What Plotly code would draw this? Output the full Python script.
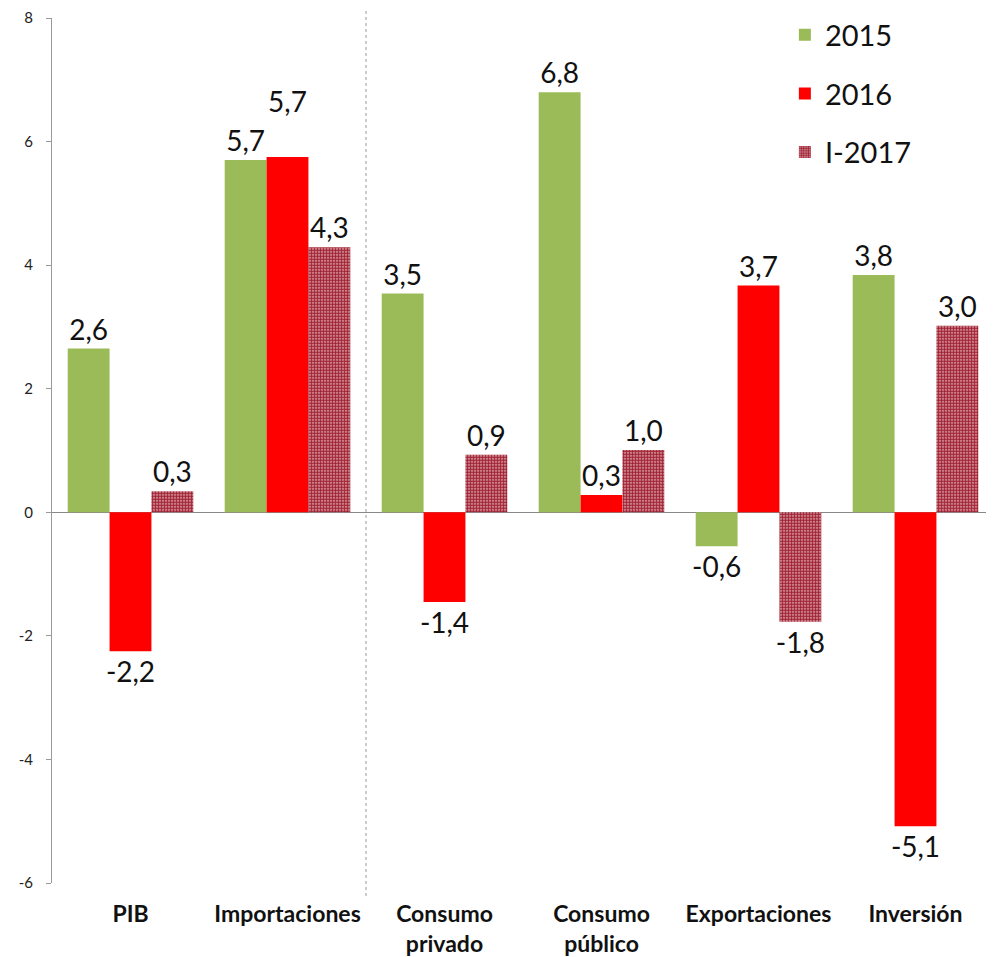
import plotly.graph_objects as go

categories = ["PIB", "Importaciones", "Consumo<br>privado", "Consumo<br>público", "Exportaciones", "Inversión"]
series_names = ["2015", "2016", "I-2017"]
values_2015 = [2.65, 5.70, 3.54, 6.80, -0.55, 3.84]
values_2016 = [-2.25, 5.75, -1.45, 0.28, 3.67, -5.08]
values_2017 = [0.34, 4.29, 0.93, 1.01, -1.77, 3.02]
labels_2015 = ["2,6", "5,7", "3,5", "6,8", "-0,6", "3,8"]
labels_2016 = ["-2,2", "5,7<br> ", "-1,4", "0,3", "3,7", "-5,1"]
labels_2017 = ["0,3", "4,3", "0,9", "1,0", "-1,8", "3,0"]
y_ticks = [-6, -4, -2, 0, 2, 4, 6, 8]

FONT = "Lato, 'Open Sans', sans-serif"
fig = go.Figure()
fig.add_trace(go.Bar(
    x=categories, y=values_2015, name=series_names[0], legendgroup="a",
    marker=dict(color="#9BBB59", line=dict(width=0)),
    text=labels_2015, textposition="outside", cliponaxis=False,
))
fig.add_trace(go.Bar(
    x=categories, y=values_2016, name=series_names[1], legendgroup="b",
    marker=dict(color="#FF0000", line=dict(width=0)),
    text=labels_2016, textposition="outside", cliponaxis=False,
))
fig.add_trace(go.Bar(
    x=categories, y=values_2017, name=series_names[2], legendgroup="c",
    marker=dict(color="#C06070", line=dict(width=0),
                pattern=dict(shape=".", bgcolor="#E4B4BA", fgcolor="#A02434",
                             size=3, solidity=0.7, fillmode="replace")),
    text=labels_2017, textposition="outside", cliponaxis=False,
))
fig.update_traces(textfont=dict(family=FONT, size=28, color="#111"), textangle=0,
                  constraintext="none")

fig.add_shape(type="line", xref="x", yref="paper", x0=1.5, x1=1.5, y0=-0.015, y1=1.02,
              line=dict(color="#999", width=1, dash="dot"))

fig.update_layout(
    width=986, height=949,
    margin=dict(l=44, r=0, t=9, b=71),
    plot_bgcolor="white", paper_bgcolor="white",
    barmode="group", bargap=0.2, bargroupgap=0,
    font=dict(family=FONT, color="#222"),
    uniformtext=dict(mode=False),
    legend=dict(x=0.778, y=1.01, xanchor="left", yanchor="top",
                font=dict(family=FONT, size=29, color="#111"),
                tracegroupgap=18, bgcolor="rgba(0,0,0,0)"),
    xaxis=dict(showline=False, showgrid=False, zeroline=False,
               ticks="outside", ticklen=10, tickcolor="rgba(0,0,0,0)",
               tickfont=dict(family=FONT, size=23, color="#111", weight="bold")),
    yaxis=dict(range=[-6, 8], tickvals=y_ticks, ticktext=[str(v) for v in y_ticks],
               showgrid=False, showline=True, linecolor="#999", linewidth=1,
               ticks="outside", ticklen=5, tickcolor="#999", ticklabelstandoff=10,
               ticklabeloverflow="allow",
               zeroline=True, zerolinecolor="#888", zerolinewidth=1,
               tickfont=dict(family=FONT, size=15, color="#222")),
    showlegend=True,
)
fig.write_html("out.html")
